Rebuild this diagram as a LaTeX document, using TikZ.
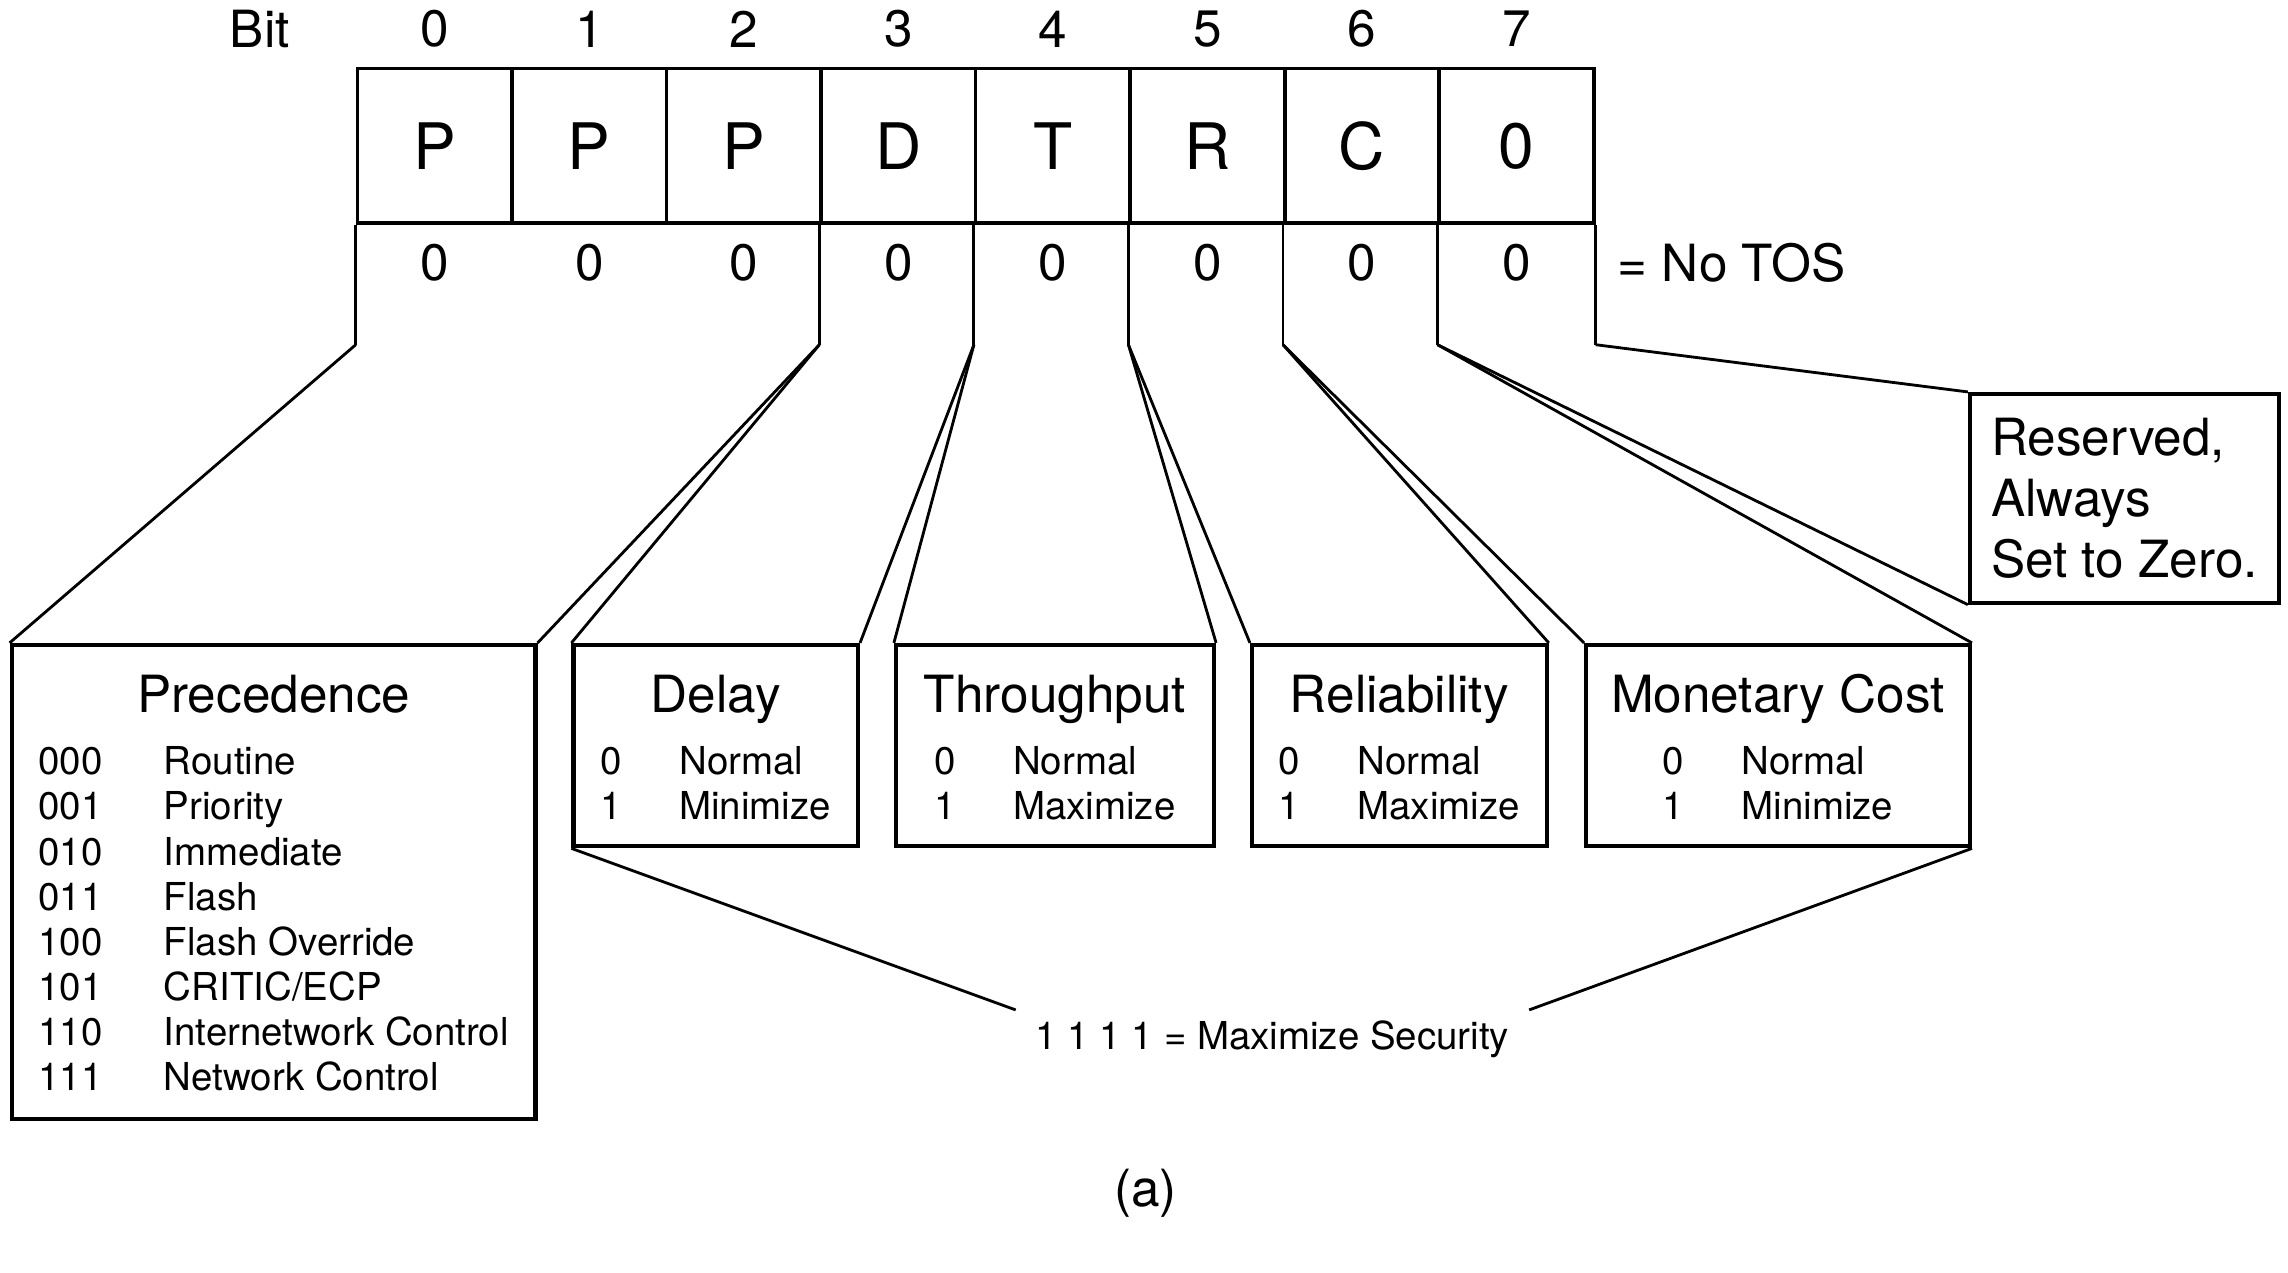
\documentclass[tikz,border=0pt]{standalone}
\usepackage{fontspec}
\setmainfont{TeX Gyre Heros}
\usepackage{tikz}
\usetikzlibrary{positioning}

\begin{document}
\begin{tikzpicture}[
  cell/.style={draw, line width=0.7pt, minimum width=1.059cm, minimum height=1.06cm, inner sep=0pt, font=\fontsize{12.5}{15}\selectfont},
  bitnum/.style={inner sep=0pt, font=\fontsize{10}{12}\selectfont},
  fieldbox/.style={draw, line width=0.8pt, inner sep=0pt},
  title/.style={anchor=base, inner sep=0pt, font=\fontsize{10}{12}\selectfont},
  list/.style={anchor=base, inner sep=0pt, font=\fontsize{7.5}{8.8}\selectfont},
  link/.style={line width=0.55pt}
]
\useasboundingbox (0,0) rectangle (15.68,-8.72);

% bit numbers
\node[bitnum] (bit) at (1.78,-0.20) {Bit};
\node[bitnum] (n0) at (2.980,-0.20) {0};
\node[bitnum] (n1) at (4.039,-0.20) {1};
\node[bitnum] (n2) at (5.098,-0.20) {2};
\node[bitnum] (n3) at (6.157,-0.20) {3};
\node[bitnum] (n4) at (7.216,-0.20) {4};
\node[bitnum] (n5) at (8.275,-0.20) {5};
\node[bitnum] (n6) at (9.334,-0.20) {6};
\node[bitnum] (n7) at (10.393,-0.20) {7};

% TOS byte
\node[cell] (b0) at (2.980,-1.00) {P};
\node[cell] (b1) at (4.039,-1.00) {P};
\node[cell] (b2) at (5.098,-1.00) {P};
\node[cell] (b3) at (6.157,-1.00) {D};
\node[cell] (b4) at (7.216,-1.00) {T};
\node[cell] (b5) at (8.275,-1.00) {R};
\node[cell] (b6) at (9.334,-1.00) {C};
\node[cell] (b7) at (10.393,-1.00) {0};

% default values
\node[bitnum] (v0) at (2.980,-1.80) {0};
\node[bitnum] (v1) at (4.039,-1.80) {0};
\node[bitnum] (v2) at (5.098,-1.80) {0};
\node[bitnum] (v3) at (6.157,-1.80) {0};
\node[bitnum] (v4) at (7.216,-1.80) {0};
\node[bitnum] (v5) at (8.275,-1.80) {0};
\node[bitnum] (v6) at (9.334,-1.80) {0};
\node[bitnum] (v7) at (10.393,-1.80) {0};
\node[bitnum, anchor=west] (notos) at (11.08,-1.80) {= No TOS};

% field edges
\draw[link] (b0.south west) -- ++(0,-0.82) coordinate (k0);
\draw[link] (b3.south west) -- ++(0,-0.82) coordinate (k3);
\draw[link] (b4.south west) -- ++(0,-0.82) coordinate (k4);
\draw[link] (b5.south west) -- ++(0,-0.82) coordinate (k5);
\draw[link] (b6.south west) -- ++(0,-0.82) coordinate (k6);
\draw[link] (b7.south west) -- ++(0,-0.82) coordinate (k7);
\draw[link] (b7.south east) -- ++(0,-0.82) coordinate (k8);

% field boxes
\node[fieldbox, minimum width=3.59cm, minimum height=3.25cm] (prec) at (1.875,-6.045) {};
\node[fieldbox, minimum width=1.95cm, minimum height=1.38cm] (delay) at (4.905,-5.11) {};
\node[fieldbox, minimum width=2.18cm, minimum height=1.38cm] (thru) at (7.23,-5.11) {};
\node[fieldbox, minimum width=2.02cm, minimum height=1.38cm] (rel) at (9.59,-5.11) {};
\node[fieldbox, minimum width=2.63cm, minimum height=1.38cm] (money) at (12.185,-5.11) {};
\node[fieldbox, minimum width=2.12cm, minimum height=1.43cm, align=left,
  font=\fontsize{10}{11.95}\selectfont] (rsv) at (14.56,-3.415) {Reserved,\\Always\\Set to Zero.};

\node[title] (prectitle) at (1.875,-4.88) {Precedence};
\node[title] (delaytitle) at (4.905,-4.88) {Delay};
\node[title] (thrutitle) at (7.23,-4.88) {Throughput};
\node[title] (reltitle) at (9.59,-4.88) {Reliability};
\node[title] (moneytitle) at (12.185,-4.88) {Monetary Cost};

\node[list] (preclist) at (1.875,-5.31) {\begin{tabular}[t]{@{}p{0.86cm}@{}l@{}}
  000 & Routine\\ 001 & Priority\\ 010 & Immediate\\ 011 & Flash\\
  100 & Flash Override\\ 101 & CRITIC/ECP\\ 110 & Internetwork Control\\ 111 & Network Control
\end{tabular}};
\node[list] (delaylist) at (4.905,-5.31) {\begin{tabular}[t]{@{}p{0.54cm}@{}l@{}} 0 & Normal\\ 1 & Minimize \end{tabular}};
\node[list] (thrulist) at (7.23,-5.31) {\begin{tabular}[t]{@{}p{0.54cm}@{}l@{}} 0 & Normal\\ 1 & Maximize \end{tabular}};
\node[list] (rellist) at (9.59,-5.31) {\begin{tabular}[t]{@{}p{0.54cm}@{}l@{}} 0 & Normal\\ 1 & Maximize \end{tabular}};
\node[list] (moneylist) at (12.185,-5.31) {\begin{tabular}[t]{@{}p{0.54cm}@{}l@{}} 0 & Normal\\ 1 & Minimize \end{tabular}};

% fan-out from the byte
\draw[link] (k0) -- (prec.north west);
\draw[link] (k3) -- (prec.north east);
\draw[link] (k3) -- (delay.north west);
\draw[link] (k4) -- (delay.north east);
\draw[link] (k4) -- (thru.north west);
\draw[link] (k5) -- (thru.north east);
\draw[link] (k5) -- (rel.north west);
\draw[link] (k6) -- (rel.north east);
\draw[link] (k6) -- (money.north west);
\draw[link] (k7) -- (money.north east);
\draw[link] (k7) -- (rsv.south west);
\draw[link] (k8) -- (rsv.north west);

% security combination
\node[anchor=base, inner xsep=0.13cm, inner ysep=0.07cm, font=\fontsize{7.5}{9}\selectfont] (sec) at (8.72,-7.195) {1 1 1 1 = Maximize Security};
\draw[link] (delay.south west) -- (sec.north west);
\draw[link] (money.south east) -- (sec.north east);

\node[title] (cap) at (7.85,-8.27) {(a)};
\end{tikzpicture}
\end{document}
